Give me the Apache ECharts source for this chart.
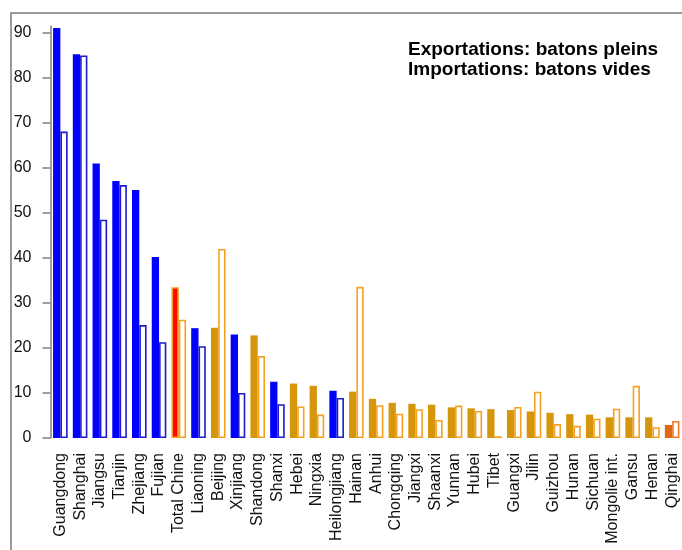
<!DOCTYPE html>
<html>
<head>
<meta charset="utf-8">
<script src="https://cdn.jsdelivr.net/npm/echarts@6/dist/echarts.min.js"></script>
<style>
html,body{margin:0;padding:0;background:#fff;}
#chart{width:682px;height:550px;}
</style>
</head>
<body>
<div id="chart"></div>
<script>
const categories = ["Guangdong","Shanghai","Jiangsu","Tianjin","Zhejiang","Fujian","Total Chine","Liaoning","Beijing","Xinjiang","Shandong","Shanxi","Hebei","Ningxia","Heilongjiang","Hainan","Anhui","Chongqing","Jiangxi","Shaanxi","Yunnan","Hubei","Tibet","Guangxi","Jilin","Guizhou","Hunan","Sichuan","Mongolie int.","Gansu","Henan","Qinghai"];
const exportsVals = [91.1,85.3,61.0,57.1,55.1,40.2,33.5,24.4,24.5,23.0,22.8,12.5,12.1,11.6,10.5,10.3,8.7,7.8,7.6,7.4,6.8,6.6,6.4,6.2,5.9,5.6,5.3,5.2,4.6,4.6,4.6,2.9];
const importsVals = [68.1,85.0,48.5,56.2,25.1,21.3,26.3,20.4,42.0,10.0,18.2,7.5,7.0,5.2,8.9,33.6,7.3,5.4,6.4,4.0,7.2,6.0,0.4,6.9,10.3,3.1,2.7,4.3,6.5,11.6,2.4,3.8];
// group of each category: A = blue group, B = orange group, T = total, Q = Qinghai
const groups = ["A","A","A","A","A","A","T","A","B","A","B","A","B","B","A","B","B","B","B","B","B","B","B","B","B","B","B","B","B","B","B","Q"];
const yTicks = [0,10,20,30,40,50,60,70,80,90];
const legendLines = ["Exportations: batons pleins","Importations: batons vides"];

const expFill = {A:"#0000ff", B:"#d6960c", T:"#ff0a00", Q:"#dc6a14"};
const expBorder = {A:"#0000ff", B:"#d6960c", T:"#f7a020", Q:"#dc6a14"};
const impBorder = {A:"#1c1ccc", B:"#f7a020", T:"#f7a020", Q:"#f07a28"};

const FONT = "'Liberation Sans', Arial, sans-serif";
const BW = 7.3;

const expData = exportsVals.map((v,i)=>({value:v,itemStyle:{color:expFill[groups[i]],borderColor:expBorder[groups[i]],borderWidth:groups[i]==='T'?1.5:0}}));
const impData = importsVals.map((v,i)=>({value:v,itemStyle:{color:"#ffffff",borderColor:impBorder[groups[i]],borderWidth:1.6}}));

const chart = echarts.init(document.getElementById('chart'), null, {renderer:'canvas'});
chart.setOption({
  animation:false,
  backgroundColor:"#ffffff",
  grid:{left:50.5, top:26.25, width:636, height:411.75, containLabel:false},
  xAxis:{
    type:'category', data:categories, boundaryGap:true,
    axisLine:{show:false}, axisTick:{show:false}, splitLine:{show:false},
    axisLabel:{rotate:90, interval:0, margin:15, fontSize:16, color:"#111", fontFamily:FONT}
  },
  yAxis:{
    type:'value', min:0, max:91.5, interval:10,
    splitLine:{show:false},
    axisLine:{show:true, lineStyle:{color:"#808080", width:1.5}},
    axisTick:{show:true, length:8, inside:false, lineStyle:{color:"#808080", width:1.5}, customValues:yTicks},
    axisLabel:{margin:19, fontSize:16, color:"#111", fontFamily:FONT, customValues:yTicks}
  },
  series:[
    {name:'Exportations', type:'bar', data:expData, barWidth:BW, barGap:'0%'},
    {name:'Importations', type:'bar', data:impData, barWidth:BW, barGap:'0%'}
  ],
  graphic:[
    {type:'rect', shape:{x:11, y:13, width:720, height:600}, style:{fill:null, stroke:"#7a7a7a", lineWidth:1.5}, silent:true, z:-1},
    {type:'text', left:null, x:408, y:50, style:{text:legendLines[0], font:"bold 19px "+FONT, fill:"#000", textVerticalAlign:'middle', verticalAlign:'middle'}},
    {type:'text', x:408, y:69.5, style:{text:legendLines[1], font:"bold 19px "+FONT, fill:"#000", textVerticalAlign:'middle', verticalAlign:'middle'}}
  ]
});
</script>
</body>
</html>
